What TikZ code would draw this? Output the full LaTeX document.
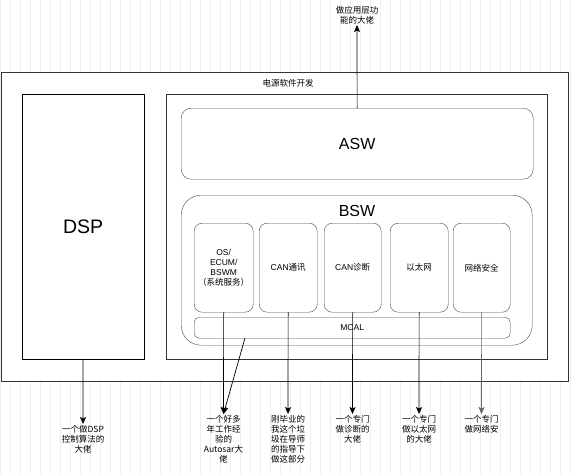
\documentclass[tikz,border=0pt]{standalone}
\usepackage{fontspec}
\setmainfont{Liberation Sans}
\newfontfamily\cjk{Noto Sans CJK SC}
\usetikzlibrary{arrows, arrows.meta}

\begin{document}
\begin{tikzpicture}[x=1pt, y=-1pt,
				   every node/.style={inner sep=0pt, font=\fontsize{8.5}{10}\selectfont},
				   box/.style={draw=black!80, fill=white, anchor=north west},
				   rbox/.style={draw=black!70, rounded corners=8pt, anchor=north west, align=center},
				   note/.style={align=center, anchor=north, inner sep=1pt, font=\cjk\fontsize{8.5}{10}\selectfont},
				   link/.style={draw=black, line width=0.7pt, -{Stealth[length=7pt, width=6pt, inset=1.5pt]}}]

\useasboundingbox (0,0) rectangle (577,474);
\draw[black!7, step=10] (0,0) grid (577,474);

\node[box, minimum width=567, minimum height=309] (power) at (1,72) {};
\node[font=\cjk\fontsize{8.5}{10}\selectfont] (powertitle) at (288,83) {电源软件开发};
\node[box, draw=black, minimum width=122, minimum height=265, font=\fontsize{19.5}{22}\selectfont] (dsp) at (22,94) {DSP};
\node[box, minimum width=381, minimum height=265] (autosar) at (166,94) {};

\node[rbox, rounded corners=10pt, minimum width=352, minimum height=71, font=\fontsize{16}{18}\selectfont] (asw) at (181,108) {ASW};
\node[rbox, rounded corners=20pt, minimum width=351, minimum height=150] (bsw) at (181,195) {};
\node[font=\fontsize{16}{18}\selectfont] (bswtitle) at (357,211) {BSW};

\node[rbox, minimum width=59, minimum height=89] (os) at (194,223) {OS/\\ECUM/\\BSWM\\{\cjk （系统服务）}};
\node[rbox, minimum width=58, minimum height=89] (cancom) at (259,223) {CAN{\cjk 通讯}};
\node[rbox, minimum width=57, minimum height=89] (candiag) at (324,223) {CAN{\cjk 诊断}};
\node[rbox, minimum width=58, minimum height=89, font=\cjk\fontsize{8.5}{10}\selectfont] (eth) at (390,223) {以太网};
\node[rbox, minimum width=57, minimum height=89, font=\cjk\fontsize{8.5}{10}\selectfont] (sec) at (453,223) {网络安全};
\node[rbox, rounded corners=5pt, minimum width=316, minimum height=21] (mcal) at (194,317) {MCAL};
\coordinate (mcaltap) at (245,338);

\node[note, anchor=south] (aswnote) at (357,25) {做应用层功\\能的大佬};
\node[note] (dspnote) at (83,424) {一个做DSP\\控制算法的\\大佬};
\node[note] (osnote) at (223.5,414) {一个好多\\年工作经\\验的\\Autosar大\\佬};
\node[note] (cancomnote) at (288,414) {刚毕业的\\我这个垃\\圾在导师\\的指导下\\做这部分};
\node[note] (candiagnote) at (352.5,414) {一个专门\\做诊断的\\大佬};
\node[note] (ethnote) at (419,414) {一个专门\\做以太网\\的大佬};
\node[note] (secnote) at (481.5,414) {一个专门\\做网络安};

\draw[link] (asw) -- (aswnote);
\draw[link] (dsp) -- (dspnote);
\draw[link] (os) -- (osnote);
\draw[link] (mcaltap) -- (osnote.north);
\draw[link] (cancom) -- (cancomnote);
\draw[link] (candiag) -- (candiagnote);
\draw[link] (eth) -- (ethnote);
\draw[link, draw=black!60] (sec) -- (secnote);

\end{tikzpicture}
\end{document}
